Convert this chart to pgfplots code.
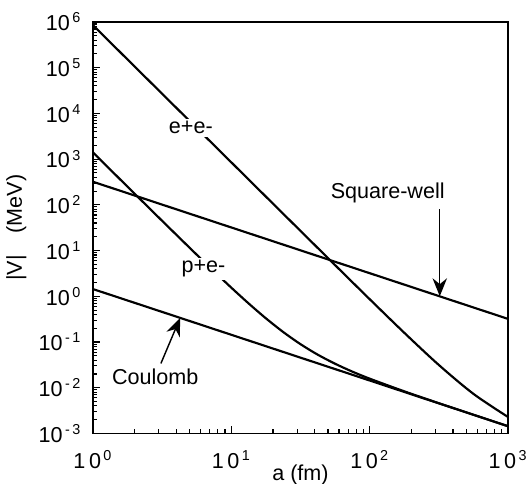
\documentclass[border=0pt]{standalone}
\usepackage{pgfplots}
\pgfplotsset{compat=1.18}
\usepackage{fontspec}
\setmainfont{Liberation Sans}
\usetikzlibrary{arrows.meta}

\begin{document}
\begin{tikzpicture}
\begin{axis}[
  xmode=log, ymode=log, scale only axis,
  width=231pt, height=229pt,
  xmin=1, xmax=1000, ymin=1e-3, ymax=1e6,
  axis line style={line width=0.9pt},
  tick pos=left, tick align=inside,
  major tick length=4pt, minor tick length=2.4pt,
  every tick/.style={black, line width=0.6pt},
  xtick={1,10,100,1000},
  xticklabels={1\,0\textsuperscript{\,0},1\,0\textsuperscript{\,1},1\,0\textsuperscript{\,2},1\,0\textsuperscript{\,3}},
  ytick={1e-3,1e-2,1e-1,1,10,100,1000,1e4,1e5,1e6},
  yticklabels={10\textsuperscript{\,-\,3},10\textsuperscript{\,-\,2},10\textsuperscript{\,-\,1},10\textsuperscript{\,0},10\textsuperscript{\,1},10\textsuperscript{\,2},10\textsuperscript{\,3},10\textsuperscript{\,4},10\textsuperscript{\,5},10\textsuperscript{\,6}},
  tick label style={font=\large},
  xticklabel style={yshift=-6pt},
  yticklabel style={xshift=-3pt},
  xlabel={a (fm)}, ylabel={|V|\quad(MeV)},
  label style={font=\large},
  xlabel style={yshift=9pt},
  clip=false,
]
% e+e-
\addplot[black, line width=1.2pt, smooth] coordinates {
 (1,850001) (1.778,151166) (3.162,26879) (5.623,4780) (10,850.1)
 (17.78,151.2) (31.62,26.92) (56.23,4.806) (100,0.864) (177.8,0.1593)
 (316.2,0.03143) (562.3,0.00734) (1000,0.00229)};
% p+e-
\addplot[black, line width=1.2pt, smooth] coordinates {
 (1,1401.4) (1.778,249.8) (3.162,44.73) (5.623,8.13) (7.499,3.512) (10,1.544)
 (13.34,0.698) (17.78,0.330) (23.71,0.1657) (31.62,0.0898) (42.17,0.0528)
 (56.23,0.0335) (74.99,0.0225) (100,0.0158) (177.8,0.00835) (316.2,0.00459)
 (562.3,0.00257) (1000,0.00144)};
% Square-well
\addplot[black, line width=1.2pt] coordinates {(1,320) (1000,0.32)};
% Coulomb
\addplot[black, line width=1.2pt] coordinates {(1,1.44) (1000,0.00144)};

\node[fill=white, inner sep=1.5pt, font=\large] at (axis cs:5.1,4900) {e+e-};
\node[fill=white, inner sep=1.5pt, font=\large] at (axis cs:6.3,4.0) {p+e-};
\node[font=\large] at (axis cs:135,186) {Square-well};
\draw[line width=0.8pt, -{Stealth[length=10pt,width=8pt]}] (axis cs:321,80) -- (axis cs:321,1.0);
\node[font=\large] at (axis cs:2.82,0.0174) {Coulomb};
\draw[line width=0.8pt, -{Stealth[length=10pt,width=8pt]}] (axis cs:3.1,0.034) -- (axis cs:4.27,0.337);

\coordinate (sw) at (rel axis cs:0,0);
\coordinate (ne) at (rel axis cs:1,1);
\end{axis}
\pgfresetboundingbox
\path[use as bounding box] ([xshift=-51.7pt,yshift=-27.8pt]sw) rectangle ([xshift=12.2pt,yshift=12.2pt]ne);
\end{tikzpicture}
\end{document}
